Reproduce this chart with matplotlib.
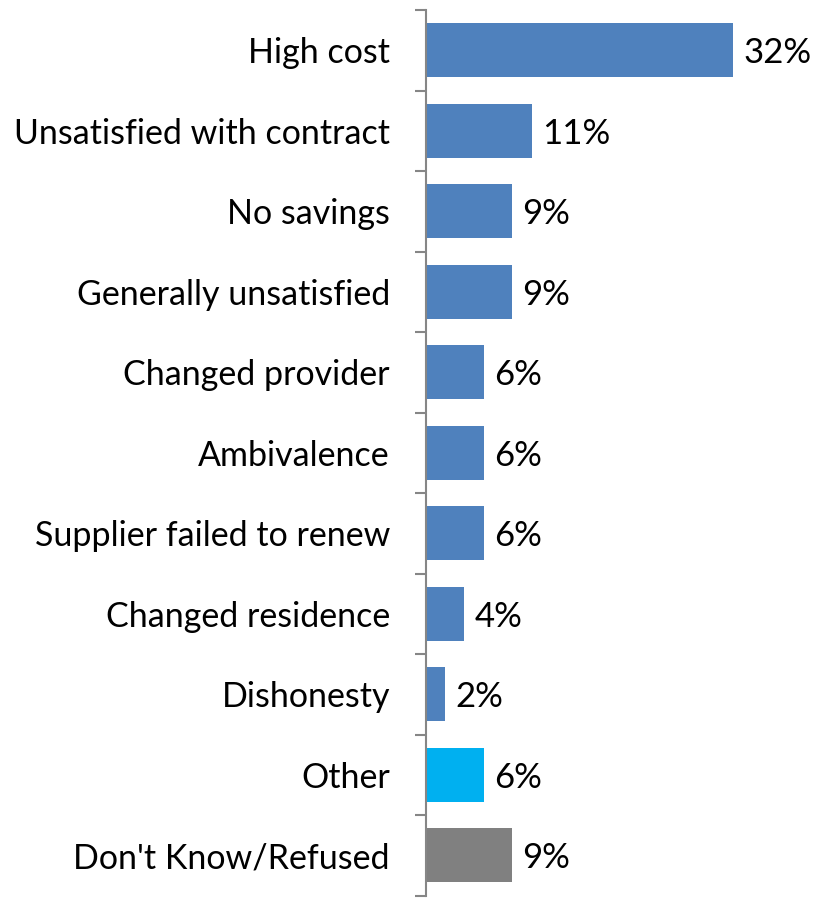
import matplotlib
matplotlib.use("Agg")
import matplotlib.pyplot as plt

categories = [
    "High cost",
    "Unsatisfied with contract",
    "No savings",
    "Generally unsatisfied",
    "Changed provider",
    "Ambivalence",
    "Supplier failed to renew",
    "Changed residence",
    "Dishonesty",
    "Other",
    "Don't Know/Refused",
]
values = [32, 11, 9, 9, 6, 6, 6, 4, 2, 6, 9]
colors = ["#4F81BD"] * 9 + ["#00B0F0", "#808080"]

plt.rcParams["font.family"] = ["Lato", "DejaVu Sans"]

fig = plt.figure(figsize=(8.17, 8.98), dpi=100)
ax = fig.add_axes([426 / 817, 2.5 / 898, 1 - 426 / 817, 885.5 / 898])

y = list(range(len(categories)))
ax.barh(y, values, height=0.67, color=colors)
ax.set_ylim(len(categories) - 0.5, -0.5)
ax.set_xlim(0, 40.7)

for yi, v in zip(y, values):
    ax.annotate(f"{v}%", xy=(v, yi), xytext=(10, -3), textcoords="offset pixels",
                va="center", ha="left", fontsize=25, color="black")

# category labels between tick marks at boundaries
ax.set_yticks(y)
ax.set_yticklabels(categories, fontsize=24.5)
ax.tick_params(axis="y", which="major", length=0, pad=26)
ax.set_yticks([i - 0.5 for i in range(len(categories) + 1)], minor=True)
ax.tick_params(axis="y", which="minor", length=8, width=1.5, color="#868686")

ax.set_xticks([])
for s in ["top", "right", "bottom"]:
    ax.spines[s].set_visible(False)
ax.spines["left"].set_color("#868686")
ax.spines["left"].set_linewidth(1.5)

fig.savefig("out.png", dpi=100)
